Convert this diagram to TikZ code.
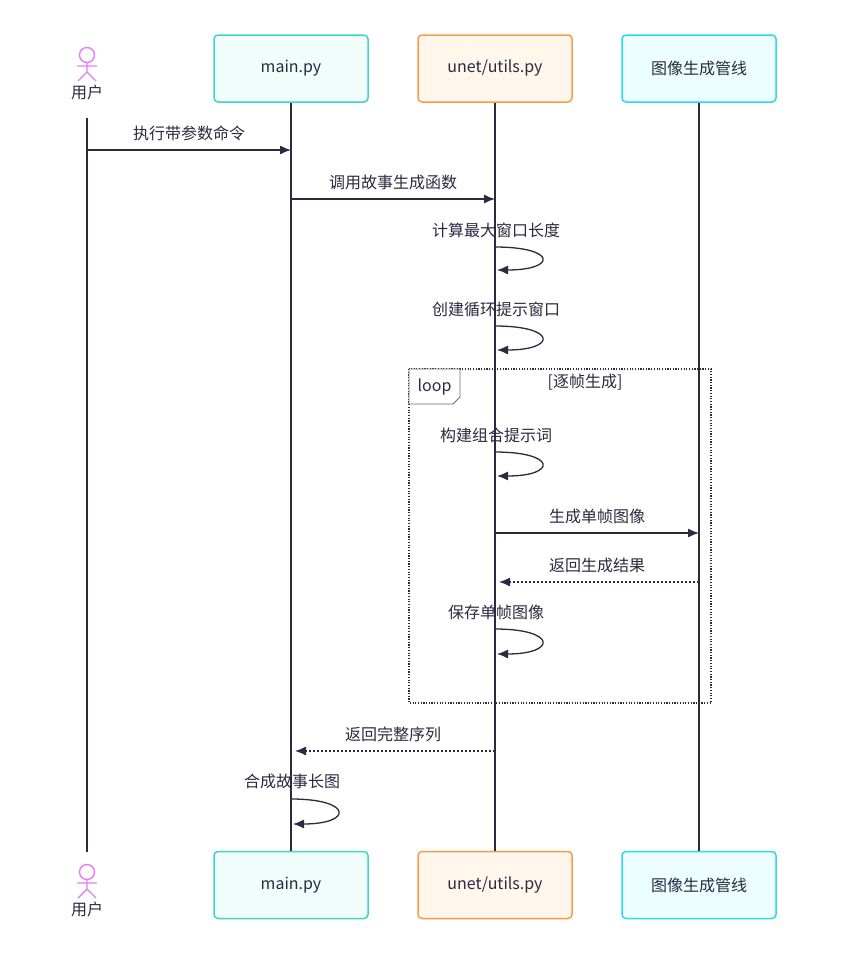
\documentclass[tikz,border=0pt]{standalone}
\usepackage{fontspec}
\setmainfont{Noto Sans CJK SC}
\usetikzlibrary{arrows.meta}
\definecolor{ln}{HTML}{2B2A40}
\definecolor{tealb}{HTML}{3DD6C2}\definecolor{tealf}{HTML}{F0FDFA}
\definecolor{orb}{HTML}{FB9A4A}\definecolor{orf}{HTML}{FFF6EC}
\definecolor{cyb}{HTML}{2BD9EE}\definecolor{cyf}{HTML}{ECFEFF}
\definecolor{act}{HTML}{E67EF2}
\tikzset{
 x=1pt,y=-1pt,
 box/.style={draw=#1,line width=1.5pt,rounded corners=4pt,minimum width=154pt,minimum height=67pt,font=\fontsize{16}{18}\selectfont,text=ln},
 life/.style={draw=ln,line width=1.5pt},
 msg/.style={draw=ln,line width=1.3pt,-{Latex[length=11pt,width=9pt]}},
 ret/.style={msg,dash pattern=on 2pt off 2pt,shorten >=4pt},
 lbl/.style={font=\fontsize{16}{18}\selectfont,text=ln},
 actor/.style={draw=act,line width=1.4pt},
}
\newcommand{\drawactor}[2]{%
 \draw[actor] (#1,#2) circle (7.5);
 \draw[actor] (#1,#2+7.5) -- (#1,#2+17) (#1-10,#2+11) -- (#1+10,#2+11) (#1-9,#2+26) -- (#1,#2+17) -- (#1+9,#2+26);}
\newcommand{\selfloop}[4]{% name x y1 y2
 \draw[msg] (#2,#3) .. controls (#2+62,#3) and (#2+62,#4) .. (#2+2,#4);}
\begin{document}
\begin{tikzpicture}
\useasboundingbox[fill=white] (0,0) rectangle (856,953);
% boxes
\node[box=tealb,fill=tealf] (mtop) at (291,68.5) {main.py};
\node[box=tealb,fill=tealf] (mbot) at (291,885) {main.py};
\node[box=orb,fill=orf] (utop) at (495,68.5) {unet/utils.py};
\node[box=orb,fill=orf] (ubot) at (495,885) {unet/utils.py};
\node[box=cyb,fill=cyf] (ptop) at (699,68.5) {图像生成管线};
\node[box=cyb,fill=cyf] (pbot) at (699,885) {图像生成管线};
\draw[life] (mtop.south) -- (mbot.north);
\draw[life] (utop.south) -- (ubot.north);
\draw[life] (ptop.south) -- (pbot.north);
% actor
\drawactor{87}{55}
\node[lbl] (atop) at (87,92) {用户};
\drawactor{87}{872}
\node[lbl] (abot) at (87,909) {用户};
\coordinate (ua) at (87,118); \coordinate (ub) at (87,852);
\draw[life] (ua) -- (ub);
% loop frame
\draw[ln,line width=1.2pt,dash pattern=on 1.2pt off 1.5pt] (409,369) rectangle (711,703);
\draw[ln!70,fill=white,line width=0.8pt] (409,369) -- (460,369) -- (460,397) -- (453,404) -- (409,404) -- cycle;
\node[lbl] (looptag) at (434.5,387) {loop};
\node[lbl] (cond) at (585,382) {[逐帧生成]};
% messages
\coordinate (a1) at (87,150); \coordinate (b1) at (291,150);
\draw[msg] (a1) -- (b1) node[lbl,midway,above=5pt] {执行带参数命令};
\coordinate (a2) at (291,199); \coordinate (b2) at (495,199);
\draw[msg] (a2) -- (b2) node[lbl,midway,above=5pt] {调用故事生成函数};
\node[lbl] (l3) at (496,230) {计算最大窗口长度};
\selfloop{l3}{495}{247}{270}
\node[lbl] (l4) at (496,309) {创建循环提示窗口};
\selfloop{l4}{495}{326}{350}
\node[lbl] (l5) at (496,435) {构建组合提示词};
\selfloop{l5}{495}{452}{476}
\coordinate (a6) at (495,533); \coordinate (b6) at (699,533);
\draw[msg] (a6) -- (b6) node[lbl,midway,above=5pt] {生成单帧图像};
\coordinate (a7) at (699,582); \coordinate (b7) at (495,582);
\draw[ret] (a7) -- (b7) node[lbl,midway,above=5pt] {返回生成结果};
\node[lbl] (l8) at (496,612) {保存单帧图像};
\selfloop{l8}{495}{629}{654}
\coordinate (a9) at (495,751); \coordinate (b9) at (291,751);
\draw[ret] (a9) -- (b9) node[lbl,midway,above=5pt] {返回完整序列};
\node[lbl] (l10) at (292,781) {合成故事长图};
\selfloop{l10}{291}{799}{824}
\end{tikzpicture}
\end{document}
